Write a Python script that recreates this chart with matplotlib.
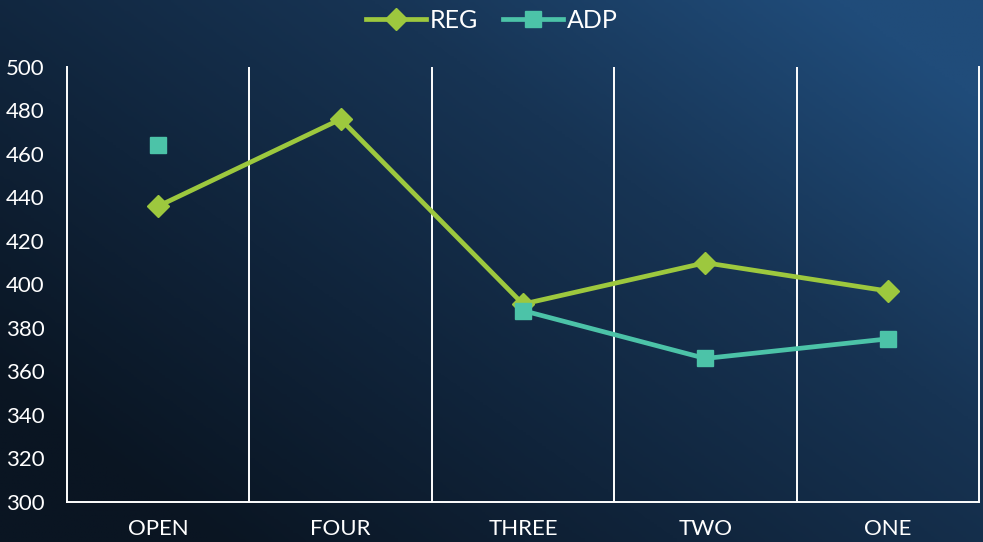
import numpy as np
import matplotlib
matplotlib.use("Agg")
import matplotlib.pyplot as plt
from matplotlib.colors import LinearSegmentedColormap

categories = ["OPEN", "FOUR", "THREE", "TWO", "ONE"]
reg = [436, 476, 391, 410, 397]
adp = [464, np.nan, 388, 366, 375]
yticks = list(range(300, 501, 20))

plt.rcParams['font.family'] = ['Lato', 'DejaVu Sans']

fig = plt.figure(figsize=(9.83, 5.42), dpi=100)

# background gradient
bg = fig.add_axes([0, 0, 1, 1])
bg.set_axis_off()
xx, yy = np.meshgrid(np.linspace(0, 1, 300), np.linspace(0, 1, 200))
g = np.clip(0.7 * xx + 0.55 * yy - 0.15, 0, 1)
cmap = LinearSegmentedColormap.from_list("bgc", ["#0a1522", "#10243b", "#173454", "#204c7a"])
bg.imshow(g, cmap=cmap, origin="lower", extent=[0, 1, 0, 1], aspect="auto")

ax = fig.add_axes([67 / 983, 1 - 502 / 542, 912 / 983, 435 / 542])
ax.patch.set_alpha(0)
x = np.arange(len(categories))

ax.plot(x, reg, color="#9dc83e", lw=3.4, marker="D", markersize=11, label="REG", zorder=3)
ax.plot(x, adp, color="#4cc3a8", lw=3.4, marker="s", markersize=12, label="ADP", zorder=3)

ax.set_xlim(-0.5, len(categories) - 0.5)
ax.set_ylim(300, 500)
ax.set_yticks(yticks)
ax.set_xticks(x)
ax.set_xticklabels(categories)
ax.set_xticks(np.arange(0.5, len(categories) - 1, 1), minor=True)
ax.grid(True, which="minor", axis="x", color="white", lw=1.4)
ax.tick_params(which="both", length=0)
ax.tick_params(axis="y", colors="white", labelsize=16, pad=16)
ax.tick_params(axis="x", colors="white", labelsize=16, pad=12)
for s in ["left", "bottom", "right"]:
    ax.spines[s].set_color("white")
    ax.spines[s].set_linewidth(1.4)
ax.spines["top"].set_visible(False)

leg = fig.legend(loc="upper center", bbox_to_anchor=(0.5, 1.025), ncol=2, frameon=False,
                 labelcolor="white", handlelength=2.4, columnspacing=1.0,
                 handletextpad=0.15, prop={"size": 18})

fig.savefig("out.png", dpi=100)
